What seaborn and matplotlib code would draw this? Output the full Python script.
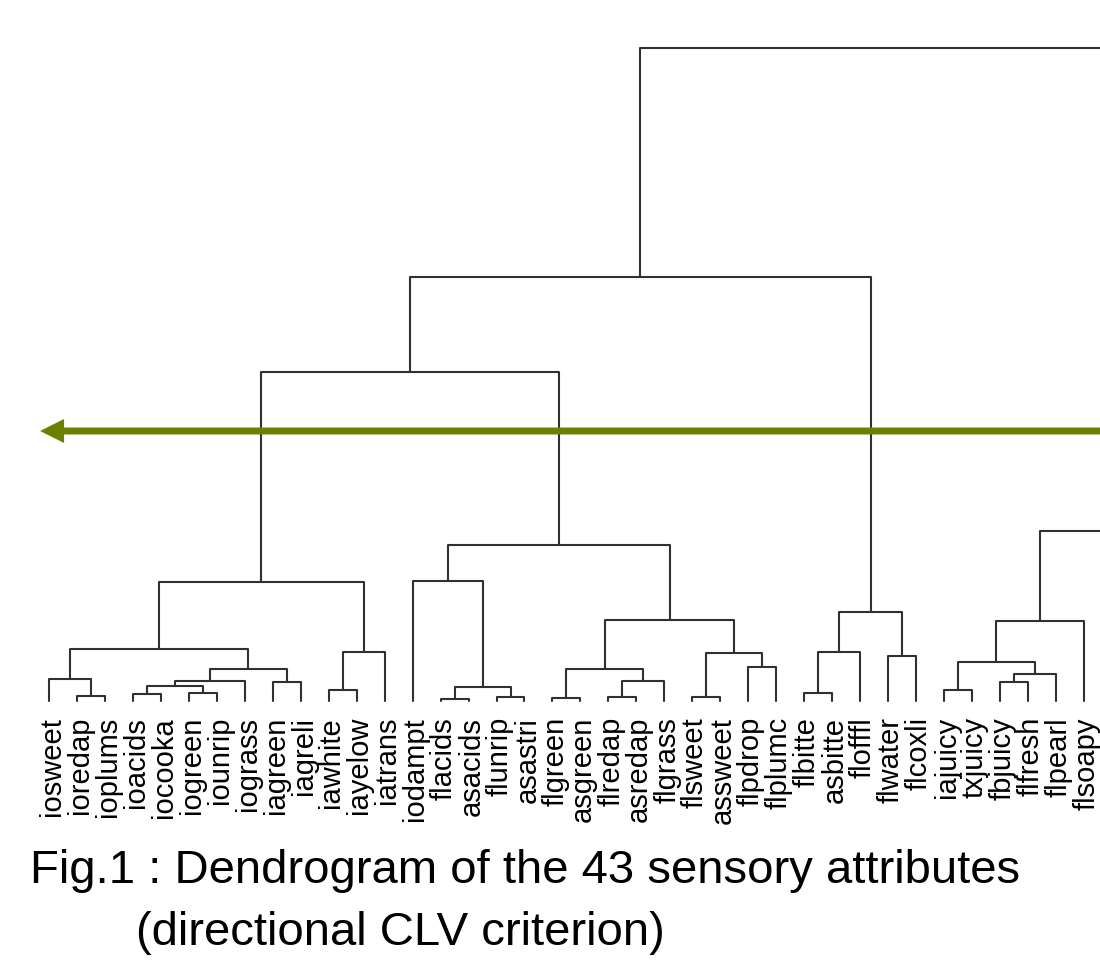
import matplotlib
matplotlib.use("Agg")
import matplotlib.pyplot as plt
import seaborn as sns
import pandas as pd
from matplotlib.patches import ArrowStyle

# ---- data -------------------------------------------------------------
# visible leaves, in dendrogram order (left to right)
leaves = ["iosweet", "ioredap", "ioplums", "ioacids", "iocooka", "iogreen",
          "iounrip", "iograss", "iagreen", "iagreli", "iawhite", "iayelow",
          "iatrans", "iodampt", "flacids", "asacids", "flunrip", "asastri",
          "flgreen", "asgreen", "flredap", "asredap", "flgrass", "flsweet",
          "assweet", "flpdrop", "flplumc", "flbitte", "asbitte", "flofffl",
          "flwater", "flcoxli", "iajuicy", "txjuicy", "fbjuicy", "flfresh",
          "flpearl", "flsoapy"]
# remaining leaves of the 43 lie beyond the cropped right edge
offscreen = ["x1", "x2", "x3", "x4", "x5"]

# merges: (node, left child, right child, height)
merges = [
    ("n1", "ioredap", "ioplums", 0.05),
    ("n2", "iosweet", "n1", 0.22),
    ("n3", "ioacids", "iocooka", 0.07),
    ("n4", "iogreen", "iounrip", 0.08),
    ("n5", "n3", "n4", 0.15),
    ("n6", "n5", "iograss", 0.20),
    ("n7", "iagreen", "iagreli", 0.19),
    ("n8", "n6", "n7", 0.32),
    ("n9", "n2", "n8", 0.52),
    ("n10", "iawhite", "iayelow", 0.11),
    ("n11", "n10", "iatrans", 0.49),
    ("n12", "n9", "n11", 1.19),
    ("n13", "flacids", "asacids", 0.02),
    ("n14", "flunrip", "asastri", 0.04),
    ("n15", "n13", "n14", 0.14),
    ("n16", "iodampt", "n15", 1.20),
    ("n17", "flgreen", "asgreen", 0.03),
    ("n18", "flredap", "asredap", 0.04),
    ("n19", "n18", "flgrass", 0.20),
    ("n20", "n17", "n19", 0.32),
    ("n21", "flsweet", "assweet", 0.04),
    ("n22", "flpdrop", "flplumc", 0.34),
    ("n23", "n21", "n22", 0.48),
    ("n24", "n20", "n23", 0.81),
    ("n25", "n16", "n24", 1.56),
    ("n26", "n12", "n25", 3.29),
    ("n27", "flbitte", "asbitte", 0.08),
    ("n28", "n27", "flofffl", 0.49),
    ("n29", "flwater", "flcoxli", 0.45),
    ("n30", "n28", "n29", 0.89),
    ("n31", "n26", "n30", 4.24),
    ("n32", "iajuicy", "txjuicy", 0.11),
    ("n33", "fbjuicy", "flfresh", 0.19),
    ("n34", "n33", "flpearl", 0.27),
    ("n35", "n32", "n34", 0.39),
    ("n36", "n35", "flsoapy", 0.80),
    ("n37", "x1", "x2", 0.30),
    ("n38", "x3", "x4", 0.40),
    ("n39", "n38", "x5", 0.60),
    ("n40", "n37", "n39", 1.00),
    ("n41", "n36", "n40", 1.70),
    ("n42", "n31", "n41", 6.53),
]
cut_height = 2.70
caption = ["Fig.1 : Dendrogram of the 43 sensory attributes",
           "(directional CLV criterion)"]

# ---- build segments ---------------------------------------------------
pos = {}
hgt = {}
for i, name in enumerate(leaves + offscreen):
    pos[name] = float(i)
    hgt[name] = 0.0

rows = []
for k, (node, l, r, h) in enumerate(merges):
    pos[node] = (pos[l] + pos[r]) / 2
    hgt[node] = h
    for (x, y) in [(pos[l], hgt[l]), (pos[l], h), (pos[r], h), (pos[r], hgt[r])]:
        rows.append({"x": x, "h": y, "seg": k})
df = pd.DataFrame(rows)

# ---- plot -------------------------------------------------------------
sns.set_theme(style="white")
plt.rcParams["font.family"] = ["Liberation Sans", "DejaVu Sans"]

fig = plt.figure(figsize=(11, 9.6), dpi=100)
ax = fig.add_axes([0, 0, 1, 1])

sns.lineplot(data=df, x="x", y="h", units="seg", estimator=None, sort=False,
             color="#303030", lw=1.5, ax=ax, legend=False)

for i, name in enumerate(leaves):
    ax.text(i + 0.1, -0.16, name, rotation=90, ha="center", va="top",
            fontsize=21, color="black")

ax.annotate("", xy=(-0.32, cut_height), xytext=(40, cut_height),
            arrowprops=dict(arrowstyle=ArrowStyle("simple", head_length=1.73,
                                                  head_width=1.73, tail_width=0.5),
                            mutation_scale=10, color="#6b8000", lw=0,
                            shrinkA=0, shrinkB=0),
            annotation_clip=False)

ax.set_xlim(-49 / 27.97, (1100 - 49) / 27.97)
ax.set_ylim(-2.59, 7.01)
ax.axis("off")

fig.text(30 / 1100, (960 - 883) / 960, caption[0], fontsize=34,
         ha="left", va="baseline", color="black")
fig.text(136 / 1100, (960 - 945) / 960, caption[1], fontsize=34,
         ha="left", va="baseline", color="black")

fig.savefig("out.png", dpi=100, facecolor="white")
